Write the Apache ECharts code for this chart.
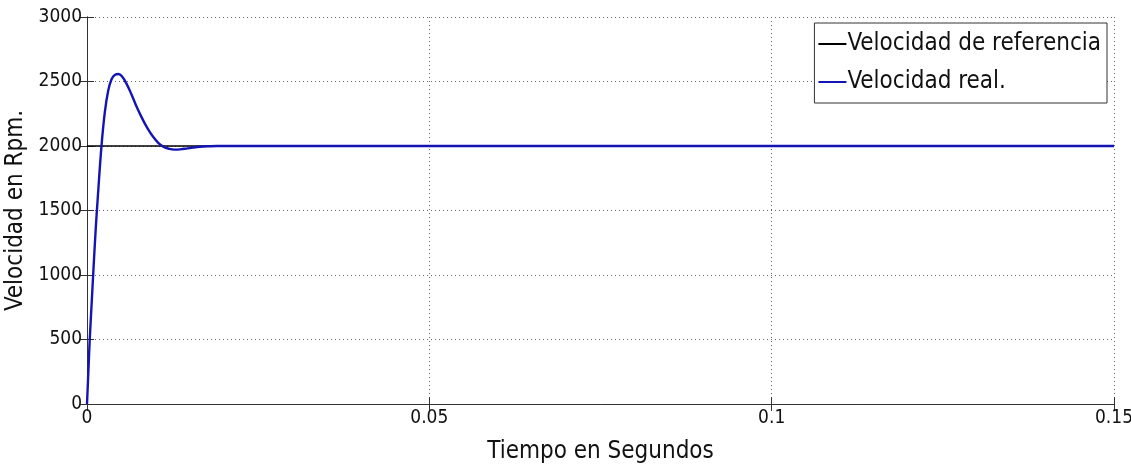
<!DOCTYPE html>
<html><head><meta charset="utf-8">
<script src="https://cdn.jsdelivr.net/npm/echarts@6/dist/echarts.min.js"></script>
<style>html,body{margin:0;padding:0;background:#fff}#c{width:1131px;height:465px}</style>
</head><body><div id="c"></div>
<script>
const seriesNames = ['Velocidad de referencia', 'Velocidad real.'];
const refTime = [0, 0.15];
const refSpeed = [2000, 2000];
const realTime = [0, 0.0002, 0.0004, 0.0007, 0.001, 0.0013, 0.0016, 0.0021, 0.0026, 0.0031, 0.0036, 0.0041, 0.0046, 0.0051, 0.0058, 0.0065, 0.0072, 0.008, 0.0088, 0.0096, 0.0104, 0.0112, 0.012, 0.0128, 0.0136, 0.0145, 0.0155, 0.0165, 0.0178, 0.019, 0.03, 0.05, 0.08, 0.11, 0.15];
const realSpeed = [0, 250, 500, 800, 1100, 1380, 1620, 1990, 2260, 2430, 2520, 2553, 2558, 2540, 2480, 2400, 2310, 2220, 2140, 2075, 2025, 1993, 1978, 1972, 1974, 1980, 1988, 1994, 1998, 2000, 2000, 2000, 2000, 2000, 2000];
const xTicks = [0, 0.05, 0.1, 0.15];
const yTicks = [0, 500, 1000, 1500, 2000, 2500, 3000];

const FONT = "'Liberation Sans Narrow','DejaVu Sans Condensed',sans-serif";
const chart = echarts.init(document.getElementById('c'));
const ref = refTime.map((t, i) => [t, refSpeed[i]]);
const real = realTime.map((t, i) => [t, realSpeed[i]]);
const axisLine = {show: true, lineStyle: {color: '#333', width: 1}};
const tick = {show: true, inside: true, length: 7, lineStyle: {color: '#333'}};
chart.setOption({
  animation: false,
  backgroundColor: '#fff',
  grid: {left: 87, right: 17, top: 17, bottom: 61, show: false, containLabel: false, outerBoundsMode: 'none'},
  legend: {
    data: seriesNames, orient: 'vertical', right: 24, top: 23,
    backgroundColor: '#fff', borderColor: '#333', borderWidth: 1,
    padding: [9, 6, 9, 4], itemGap: 14, itemWidth: 28, itemHeight: 2, icon: 'rect',
    textStyle: {fontFamily: FONT, fontSize: 24, color: '#111', padding: [0, 0, 0, -4]}
  },
  xAxis: [{
    type: 'value', min: 0, max: 0.15, interval: 0.05,
    name: 'Tiempo en Segundos', nameLocation: 'middle', nameGap: 36,
    nameTextStyle: {fontFamily: FONT, fontSize: 24, color: '#111'},
    axisLine: axisLine, axisTick: tick,
    axisLabel: {fontFamily: FONT, fontSize: 19, color: '#111', margin: 5,
      formatter: v => { const m = xTicks.find(t => Math.abs(t - v) < 1e-9); return m === undefined ? '' : String(m); }},
    splitLine: {show: true, lineStyle: {type: [1, 3], color: '#666', width: 1}}
  }, {
    type: 'value', position: 'top', min: 0, max: 0.15, interval: 0.05,
    axisLine: axisLine, axisTick: tick, axisLabel: {show: false}, splitLine: {show: false}
  }],
  yAxis: [{
    type: 'value', min: 0, max: 3000, interval: 500,
    name: 'Velocidad en Rpm.', nameLocation: 'middle', nameGap: 51, nameRotate: 90,
    nameTextStyle: {fontFamily: FONT, fontSize: 24, color: '#111'},
    axisLine: axisLine, axisTick: tick,
    axisLabel: {fontFamily: FONT, fontSize: 19, color: '#111', margin: 5,
      formatter: v => yTicks.includes(v) ? String(v) : ''},
    splitLine: {show: true, lineStyle: {type: [1, 3], color: '#666', width: 1}}
  }, {
    type: 'value', position: 'right', min: 0, max: 3000, interval: 500,
    axisLine: axisLine, axisTick: tick, axisLabel: {show: false}, splitLine: {show: false}
  }],
  series: [{
    name: seriesNames[0], type: 'line', data: ref, showSymbol: false,
    lineStyle: {color: '#000', width: 1.5}, itemStyle: {color: '#000'}
  }, {
    name: seriesNames[1], type: 'line', data: real, showSymbol: false, smooth: 0.4,
    lineStyle: {color: '#1414b4', width: 2.4}, itemStyle: {color: '#1414b4'}
  }]
});
</script></body></html>
